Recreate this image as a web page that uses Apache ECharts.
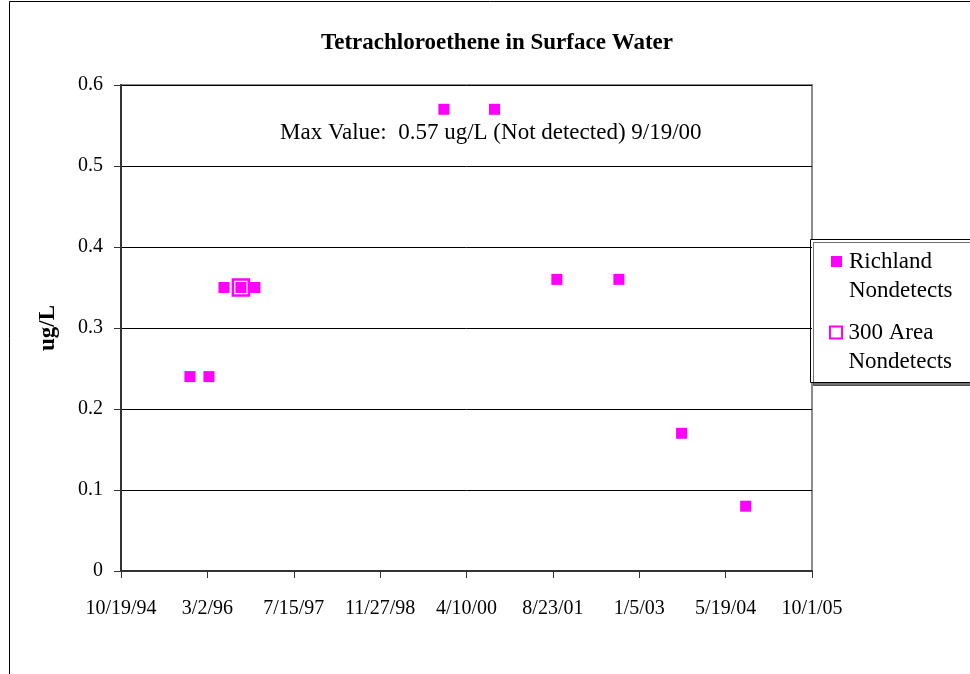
<!DOCTYPE html>
<html lang="en">
<head>
    <meta charset="UTF-8">
    <script src="https://cdn.jsdelivr.net/npm/echarts@6/dist/echarts.min.js"></script>
    <style>
        html, body { margin: 0; padding: 0; background: #fff; }
        #main { width: 970px; height: 674px; }
    </style>
</head>
<body>
    <div id="main"></div>
    <script>
        // sample dates and values
        var richlandDates = ['1995-11-22', '1996-03-11', '1996-06-06', '1996-09-12', '1996-12-02',
                             '1999-12-01', '2000-09-19', '2001-09-15', '2002-09-09', '2003-09-07', '2004-09-12'];
        var richlandValues = [0.24, 0.24, 0.35, 0.35, 0.35, 0.57, 0.57, 0.36, 0.36, 0.17, 0.08];

        var area300Dates = ['1996-09-12'];
        var area300Values = [0.35];

        // x axis runs in days from 10/19/94, one tick every 500 days
        var axisStart = '1994-10-19';
        var axisDays = 4000;
        var tickDays = 500;

        var DAY = 86400000;
        var t0 = Date.parse(axisStart);

        function toDays(d) {
            return Math.round((Date.parse(d) - t0) / DAY);
        }

        function pairs(dates, values) {
            return dates.map(function (d, i) {
                return [toDays(d), values[i]];
            });
        }

        function dayLabel(v) {
            var d = new Date(t0 + v * DAY);
            var yy = String(d.getUTCFullYear() % 100);
            if (yy.length < 2) yy = '0' + yy;
            return (d.getUTCMonth() + 1) + '/' + d.getUTCDate() + '/' + yy;
        }

        var serif = '"Liberation Serif", "Times New Roman", serif';
        var pink = '#ff00ff';

        // legend text starts with an empty line so the icon sits on the first text line
        var legendText = {
            fontFamily: serif,
            fontSize: 23,
            color: '#000',
            lineHeight: 29
        };

        var chart = echarts.init(document.getElementById('main'));

        chart.setOption({
            animation: false,
            title: {
                text: 'Tetrachloroethene in Surface Water',
                left: 316,
                top: 27,
                textStyle: {
                    fontFamily: serif,
                    fontSize: 23,
                    fontWeight: 'bold',
                    color: '#000'
                }
            },
            grid: {
                left: 121,
                right: 158,
                top: 85,
                bottom: 103,
                show: true,
                borderColor: '#8c8c8c',
                borderWidth: 2
            },
            xAxis: {
                type: 'value',
                min: 0,
                max: axisDays,
                interval: tickDays,
                axisLine: { lineStyle: { color: '#333', width: 2 } },
                axisTick: { length: 7, lineStyle: { color: '#333' } },
                splitLine: { show: false },
                axisLabel: {
                    margin: 28,
                    fontFamily: serif,
                    fontSize: 20,
                    color: '#000',
                    formatter: dayLabel
                }
            },
            yAxis: {
                type: 'value',
                min: 0,
                max: 0.6,
                interval: 0.1,
                name: 'ug/L',
                nameLocation: 'middle',
                nameGap: 61,
                nameTextStyle: {
                    fontFamily: serif,
                    fontSize: 23,
                    fontWeight: 'bold',
                    color: '#000'
                },
                axisLine: { show: true, lineStyle: { color: '#333', width: 2 } },
                axisTick: { show: true, length: 7, lineStyle: { color: '#333' } },
                splitLine: { show: true, lineStyle: { color: '#000', width: 1 } },
                axisLabel: {
                    margin: 18,
                    fontFamily: serif,
                    fontSize: 20,
                    color: '#000'
                }
            },
            legend: [
                {
                    left: 831,
                    top: 218,
                    padding: 0,
                    itemWidth: 15,
                    itemHeight: 11,
                    textStyle: legendText,
                    data: [{ name: '\nRichland\nNondetects', icon: 'path://M0,0h11v11h-11z' }]
                },
                {
                    left: 829,
                    top: 289,
                    padding: 0,
                    itemWidth: 15,
                    itemHeight: 12,
                    textStyle: legendText,
                    data: [{ name: '\n300 Area\nNondetects', icon: 'path://M0,0h12v12h-12z' }]
                }
            ],
            graphic: [
                {
                    type: 'rect',
                    shape: { x: 9.5, y: 1.5, width: 1000, height: 1000 },
                    style: { fill: 'none', stroke: '#000', lineWidth: 1 },
                    z: -10
                },
                {
                    type: 'rect',
                    shape: { x: 810.5, y: 239.5, width: 200, height: 143 },
                    style: {
                        fill: '#fff',
                        stroke: '#000',
                        lineWidth: 1,
                        shadowColor: 'rgba(0,0,0,0.55)',
                        shadowOffsetX: 3,
                        shadowOffsetY: 3
                    },
                    z: 0
                },
                {
                    type: 'text',
                    left: 280,
                    top: 121,
                    style: {
                        text: 'Max Value:  0.57 ug/L (Not detected) 9/19/00',
                        font: '23px ' + serif,
                        fill: '#000'
                    }
                }
            ],
            series: [
                {
                    name: '\nRichland\nNondetects',
                    type: 'scatter',
                    symbol: 'rect',
                    symbolSize: 11,
                    itemStyle: { color: pink, opacity: 1 },
                    data: pairs(richlandDates, richlandValues),
                    z: 3
                },
                {
                    name: '\n300 Area\nNondetects',
                    type: 'scatter',
                    symbol: 'rect',
                    symbolSize: 16,
                    itemStyle: { color: 'rgba(255,255,255,0)', borderColor: pink, borderWidth: 2.5, opacity: 1 },
                    data: pairs(area300Dates, area300Values),
                    z: 4
                }
            ]
        });
    </script>
</body>
</html>
